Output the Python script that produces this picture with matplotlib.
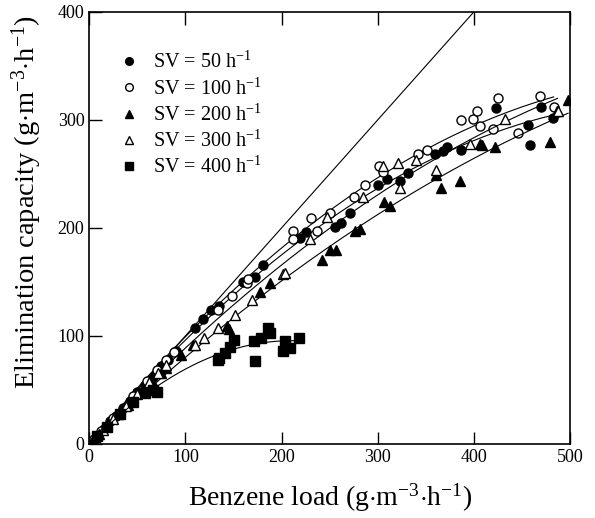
import numpy as np
import matplotlib
matplotlib.use('Agg')
import matplotlib.pyplot as plt

plt.rcParams['font.family'] = ['Liberation Serif', 'DejaVu Serif']
plt.rcParams['mathtext.fontset'] = 'custom'
plt.rcParams['mathtext.rm'] = 'Liberation Serif'
plt.rcParams['mathtext.it'] = 'Liberation Serif:italic'

# SV = 50 h-1 (filled circles)
sv50_x = [3, 8, 15, 22, 28, 35, 42, 50, 58, 66, 75, 82, 90, 110, 118, 127, 135,
          160, 172, 181, 219, 225, 256, 262, 271, 300, 310, 323, 331, 360, 368,
          372, 387, 423, 456, 458, 470, 482]
sv50_y = [3, 7, 14, 21, 26, 33, 40, 48, 55, 62, 72, 78, 86, 107, 116, 124, 128,
          150, 155, 166, 191, 196, 201, 205, 214, 240, 245, 243, 251, 268, 271,
          275, 272, 311, 295, 277, 312, 302]

# SV = 100 h-1 (open circles)
sv100_x = [5, 12, 25, 45, 60, 70, 80, 88, 134, 148, 164, 165, 212, 212, 231,
           237, 250, 275, 287, 301, 305, 342, 351, 387, 399, 403, 406, 420, 425,
           446, 469, 483]
sv100_y = [5, 12, 24, 44, 58, 68, 78, 85, 124, 137, 149, 153, 197, 190, 209,
           197, 214, 229, 240, 257, 252, 268, 272, 300, 301, 308, 294, 292, 320,
           288, 322, 312]

# SV = 200 h-1 (filled triangles)
sv200_x = [4, 10, 18, 30, 40, 55, 65, 75, 80, 95, 108, 143, 145, 178, 188,
           242, 250, 257, 276, 282, 307, 313, 361, 366, 386, 406, 408, 422, 479,
           486, 498]
sv200_y = [4, 9, 17, 28, 36, 50, 58, 66, 70, 82, 92, 109, 106, 141, 149,
           170, 180, 180, 197, 199, 224, 220, 249, 237, 243, 278, 277, 275, 280,
           308, 318]

# SV = 300 h-1 (open triangles)
sv300_x = [6, 14, 25, 38, 50, 62, 72, 80, 110, 119, 134, 152, 169, 202, 204,
           230, 247, 285, 306, 321, 323, 340, 361, 396, 432, 487]
sv300_y = [6, 13, 23, 35, 46, 57, 66, 73, 92, 98, 107, 119, 133, 157, 158,
           190, 210, 229, 257, 260, 237, 263, 254, 278, 301, 308]

# SV = 400 h-1 (filled squares)
sv400_x = [8, 18, 32, 46, 58, 66, 70, 134, 135, 141, 146, 151, 171, 172, 179,
           186, 188, 202, 204, 209, 218]
sv400_y = [7, 16, 28, 39, 47, 50, 48, 78, 80, 84, 90, 96, 95, 77, 98,
           107, 103, 86, 95, 89, 98]

series = [
    (sv50_x, sv50_y, dict(marker='o', mfc='black', mec='black'), r'SV = 50 h$^{-1}$'),
    (sv100_x, sv100_y, dict(marker='o', mfc='white', mec='black'), r'SV = 100 h$^{-1}$'),
    (sv200_x, sv200_y, dict(marker='^', mfc='black', mec='black'), r'SV = 200 h$^{-1}$'),
    (sv300_x, sv300_y, dict(marker='^', mfc='white', mec='black'), r'SV = 300 h$^{-1}$'),
    (sv400_x, sv400_y, dict(marker='s', mfc='black', mec='black'), r'SV = 400 h$^{-1}$'),
]

fig = plt.figure(figsize=(5.95, 5.18), dpi=100)
ax = fig.add_axes([0.150, 0.143, 0.808, 0.834])

# 100 % removal line
ax.plot([0, 400], [0, 400], color='black', lw=0.8)

for xs, ys, style, label in series:
    x = np.array(xs, dtype=float)
    y = np.array(ys, dtype=float)
    # quadratic fit through the origin
    A = np.column_stack([x, x ** 2])
    coef = np.linalg.lstsq(A, y, rcond=None)[0]
    xf = np.linspace(0, x.max(), 200)
    ax.plot(xf, coef[0] * xf + coef[1] * xf ** 2, color='black', lw=0.8)
    ax.plot(x, y, ls='none', ms=6.5, mew=1.0, label=label, **style)

ax.set_xlim(0, 500)
ax.set_ylim(0, 400)
ax.set_xticks([0, 100, 200, 300, 400, 500])
ax.set_yticks([0, 100, 200, 300, 400])
ax.tick_params(direction='in', length=9, width=1, labelsize=13, top=True)
for s in ax.spines.values():
    s.set_linewidth(1.2)

ax.set_xlabel(r'Benzene load (g$\cdot$m$^{-3}$$\cdot$h$^{-1}$)', fontsize=20, labelpad=11)
ax.set_ylabel(r'Elimination capacity (g$\cdot$m$^{-3}$$\cdot$h$^{-1}$)', fontsize=20.5)
ax.yaxis.set_label_coords(-0.095, 0.56)

ax.legend(loc='upper left', bbox_to_anchor=(0.04, 0.926), frameon=False,
          fontsize=14.5, handletextpad=0.6, labelspacing=0.25, markerscale=0.85,
          handlelength=1.2, borderaxespad=0)

fig.savefig('out.png', dpi=100)
